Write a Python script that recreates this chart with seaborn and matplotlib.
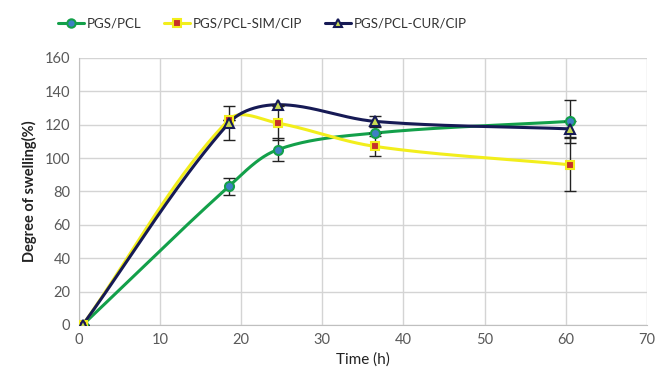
import numpy as np
import pandas as pd
import matplotlib
matplotlib.use("Agg")
import matplotlib.pyplot as plt
import seaborn as sns

time_h = [0.5, 18.5, 24.5, 36.5, 60.5]
pcl = [0, 83, 105, 115, 122]
pcl_err = [0, 5, 7, 0, 13]
sim = [0, 123, 121, 107, 96]
sim_err = [0, 0, 10, 6, 16]
cur = [0, 121, 132, 122, 117.5]
cur_err = [0, 10, 0, 3.5, 5]
series_names = ["PGS/PCL", "PGS/PCL-SIM/CIP", "PGS/PCL-CUR/CIP"]


def smooth(x, y, kx=8.1, ky=1.67, n=40):
    # Excel-style smoothed line, computed in screen-like units
    x = np.asarray(x, float) * kx
    y = np.asarray(y, float) * ky
    P = np.column_stack([x, y])

    def unit(v):
        nv = np.hypot(*v)
        return v / nv if nv > 0 else v

    out = []
    for i in range(len(P) - 1):
        p0 = P[i - 1] if i > 0 else P[i]
        p1 = P[i]; p2 = P[i + 1]
        p3 = P[i + 2] if i + 2 < len(P) else P[i + 1]
        L = np.hypot(*(p2 - p1))
        c1 = p1 + unit(p2 - p0) * L / 3
        c2 = p2 - unit(p3 - p1) * L / 3
        t = np.linspace(0, 1, n)[:, None]
        seg = ((1 - t) ** 3) * p1 + 3 * ((1 - t) ** 2) * t * c1 + 3 * (1 - t) * t ** 2 * c2 + t ** 3 * p2
        out.append(seg if i == 0 else seg[1:])
    s = np.vstack(out)
    return s[:, 0] / kx, s[:, 1] / ky


sns.set_style("white")
plt.rcParams['font.family'] = ['Lato', 'DejaVu Sans']

fig = plt.figure(figsize=(6.56, 3.84), dpi=100)
ax = fig.add_axes([0.120, 0.154, 0.866, 0.695])

styles = [
    (pcl, pcl_err, "#13a04a", "o", "#3f7fc4", "#13a04a", 6.5),
    (sim, sim_err, "#f2ee1c", "s", "#c8312a", "#f2ee1c", 6),
    (cur, cur_err, "#161a55", "^", "#c9dc52", "#161a55", 6.5),
]

handles = []
for name, (vals, err, lc, mk, mfc, mec, ms) in zip(series_names, styles):
    sx, sy = smooth(time_h, vals)
    df = pd.DataFrame({"x": sx, "y": sy})
    sns.lineplot(data=df, x="x", y="y", ax=ax, color=lc, linewidth=2.2, sort=False,
                 estimator=None, legend=False, zorder=3)
    ax.errorbar(time_h, vals, yerr=err, fmt="none", ecolor="#222222", elinewidth=1.0,
                capsize=4, capthick=1.0, zorder=4)
    ax.plot(time_h, vals, linestyle="none", marker=mk, markersize=ms, markerfacecolor=mfc,
            markeredgecolor=mec, markeredgewidth=1.5, zorder=5)
    h, = ax.plot([], [], color=lc, linewidth=2.2, marker=mk, markersize=ms - 0.5,
                 markerfacecolor=mfc, markeredgecolor=mec, markeredgewidth=1.5)
    handles.append(h)

ax.set_xlim(0, 70)
ax.set_ylim(0, 160)
ax.set_xticks(range(0, 71, 10))
ax.set_yticks(range(0, 161, 20))
ax.grid(True, color="#d4d4d4", linewidth=1.0)
ax.set_axisbelow(True)
for s in ax.spines.values():
    s.set_visible(False)
ax.spines["left"].set_visible(True)
ax.spines["left"].set_color("#bfbfbf")
ax.spines["bottom"].set_visible(True)
ax.spines["bottom"].set_color("#bfbfbf")
ax.tick_params(axis="both", length=0, labelsize=10.5, labelcolor="#595959", pad=6)
ax.set_xlabel("Time (h)", fontsize=11, color="#222222", labelpad=4)
ax.set_ylabel("Degree of swelling(%)", fontsize=10.5, fontweight="bold", color="#222222", labelpad=6)

fig.legend(handles, series_names, loc="upper center", bbox_to_anchor=(0.40, 0.985), ncol=3,
           frameon=False, fontsize=9.5, handlelength=2.0, columnspacing=1.7, handletextpad=0.2,
           labelcolor="#333333")

fig.savefig("out.png", dpi=100)
